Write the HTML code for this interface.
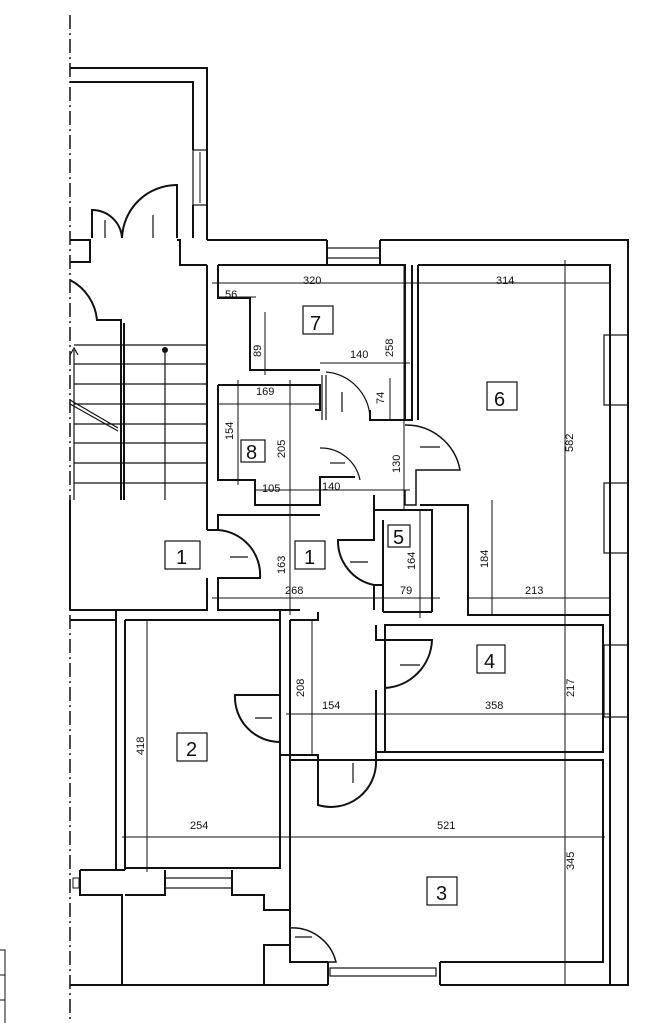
<!DOCTYPE html>
<html><head><style>
html,body{margin:0;padding:0;background:#fff;}
svg{display:block;}
text{font-family:"Liberation Sans",sans-serif;font-size:11px;fill:#111;}
.n{font-size:20px;}
</style></head><body>
<svg width="651" height="1023" viewBox="0 0 651 1023" xmlns="http://www.w3.org/2000/svg">
<g fill="none" stroke="#111" stroke-width="2">
<line x1="70" y1="15" x2="70" y2="1023" stroke-width="1.5" stroke-dasharray="14,4,2,4"/>
<path d="M70 68 H207 V240"/>
<path d="M70 82 H193 V150 M193 205 V238"/>
<rect x="193" y="150" width="14" height="55" stroke-width="1.2"/>
<line x1="200" y1="152" x2="200" y2="203" stroke-width="1"/>
<path d="M70 240 H90 V262 H70"/>
<path d="M92 238 V210 A30 30 0 0 1 122 238 M122 238 A55 55 0 0 1 177 185 V238 M177 240 H180 V265 H207"/>
<line x1="105" y1="220" x2="105" y2="238" stroke-width="1.2"/>
<line x1="153" y1="215" x2="153" y2="238" stroke-width="1.2"/>
<path d="M70 280 A50 50 0 0 1 97 320 H121 V500"/>
<path d="M124 323 V500"/>
<g stroke-width="1.2">
<line x1="74" y1="345" x2="207" y2="345"/>
<line x1="74" y1="364" x2="207" y2="364"/>
<line x1="74" y1="384" x2="207" y2="384"/>
<line x1="74" y1="404" x2="207" y2="404"/>
<line x1="74" y1="424" x2="207" y2="424"/>
<line x1="74" y1="443" x2="207" y2="443"/>
<line x1="74" y1="463" x2="207" y2="463"/>
<line x1="74" y1="483" x2="207" y2="483"/>
<line x1="165" y1="350" x2="165" y2="500"/>
<line x1="74" y1="350" x2="74" y2="500"/>
<path d="M70 400 L118 428 M70 404 L118 431"/>
<path d="M70 355 L74 348 L78 355"/>
</g>
<circle cx="165" cy="350" r="2" fill="#111"/>
<line x1="70" y1="500" x2="70" y2="610"/>
<path d="M207 240 H327 M380 240 H628 V985 H440 M328 985 H264 V945 H290 V945"/>
<rect x="327" y="248" width="53" height="10" stroke-width="1.2"/>
<path d="M327 240 V265 M380 240 V265"/>
<path d="M207 265 V530 M218 265 H405 V420 H370 V410 M218 265 V298 H250 V370 H320"/>
<path d="M412 265 V420 H405"/>
<path d="M218 385 H320 V410 H315 M218 385 V480 H255 V505 H320 V477 H355"/>
<path d="M326 375 V420 M322 375 V420" stroke-width="1.2"/>
<path d="M326 372 A48 48 0 0 1 370 418" stroke-width="1.2"/>
<line x1="342" y1="392" x2="342" y2="412" stroke-width="1.2"/>
<path d="M320 448 A40 40 0 0 1 360 480" stroke-width="1.2"/>
<line x1="330" y1="463" x2="345" y2="463" stroke-width="1.2"/>
<path d="M405 425 A55 55 0 0 1 460 470 H416 V505 H405 V490" stroke-width="1.5"/>
<line x1="420" y1="447" x2="440" y2="447" stroke-width="1.2"/>
<path d="M418 265 H610 V985 M418 265 V420 M420 505 H468 V615 H610"/>
<rect x="604" y="335" width="24" height="70" stroke-width="1.2"/>
<rect x="604" y="483" width="24" height="70" stroke-width="1.2"/>
<rect x="604" y="645" width="24" height="72" stroke-width="1.2"/>
<path d="M207 530 H218 V515 H320 M218 515 V530"/>
<path d="M218 530 A45 45 0 0 1 260 578 H218 V610 H300 M207 578 V610 H70"/>
<line x1="230" y1="557" x2="248" y2="557" stroke-width="1.2"/>
<path d="M374 495 V510 M383 510 H432 V612 M374 510 V540 H338 A45 45 0 0 0 374 585 V610 M383 520 V585 M374 510 H383"/>
<path d="M374 585 H383 V612 M432 612 H383"/>
<line x1="350" y1="562" x2="368" y2="562" stroke-width="1.2"/>
<path d="M70 620 H116 V610 M125 620 H280 V868 H125 V620 M116 620 V868"/>
<path d="M290 620 H318 V612 M280 610 V620"/>
<path d="M280 695 H235 A45 45 0 0 0 280 742 V755 H290 V620 M290 755 V962"/>
<line x1="255" y1="718" x2="272" y2="718" stroke-width="1.2"/>
<path d="M290 755 H318 V805 A45 45 0 0 0 376 760 V752 H385 V625 H603 V752 H385 M376 625 V640 H432 A50 50 0 0 1 385 688 M376 690 V752"/>
<line x1="400" y1="665" x2="420" y2="665" stroke-width="1.2"/>
<line x1="353" y1="763" x2="353" y2="783" stroke-width="1.2"/>
<path d="M290 760 H603 V962 H440 M328 962 H290 V950"/>
<path d="M290 928 A45 45 0 0 1 336 962 H292" stroke-width="1.5"/>
<line x1="295" y1="937" x2="312" y2="937" stroke-width="1.2"/>
<rect x="330" y="968" width="106" height="8" stroke-width="1.2"/>
<path d="M328 962 V985 M440 962 V985"/>
<path d="M80 870 H125 M80 870 V895 H122 V985 M125 895 H165 V870 M232 870 V895 H264 V910 H290"/>
<rect x="165" y="878" width="67" height="10" stroke-width="1.2"/>
<path d="M70 985 H264 M116 868 V870 M125 868 V870"/>
<rect x="73" y="878" width="6" height="10" stroke-width="1"/>
<path d="M0 950 H5 V1023 M0 975 H5 M0 1000 H5" stroke-width="1"/>
</g>
<g stroke="#111" stroke-width="1" fill="none">
<line x1="212" y1="283" x2="420" y2="283"/>
<line x1="412" y1="283" x2="610" y2="283"/>
<line x1="218" y1="297" x2="256" y2="297"/>
<line x1="265" y1="312" x2="265" y2="375"/>
<line x1="320" y1="363" x2="410" y2="363"/>
<line x1="390" y1="378" x2="390" y2="420"/>
<line x1="404" y1="265" x2="404" y2="510"/>
<line x1="218" y1="404" x2="320" y2="404"/>
<line x1="238" y1="380" x2="238" y2="485"/>
<line x1="290" y1="380" x2="290" y2="615"/>
<line x1="255" y1="490" x2="410" y2="490"/>
<line x1="212" y1="598" x2="440" y2="598"/>
<line x1="420" y1="510" x2="420" y2="618"/>
<line x1="565" y1="260" x2="565" y2="985"/>
<line x1="492" y1="500" x2="492" y2="615"/>
<line x1="468" y1="598" x2="610" y2="598"/>
<line x1="147" y1="620" x2="147" y2="872"/>
<line x1="122" y1="837" x2="605" y2="837"/>
<line x1="312" y1="620" x2="312" y2="755"/>
<line x1="286" y1="714" x2="610" y2="714"/>
</g>
<text x="303" y="284">320</text>
<text x="496" y="284">314</text>
<text x="225" y="298" font-size="10">56</text>
<text x="350" y="358">140</text>
<text x="256" y="395">169</text>
<text x="262" y="492">105</text>
<text x="322" y="490">140</text>
<text x="285" y="594">268</text>
<text x="400" y="594">79</text>
<text x="525" y="594">213</text>
<text x="190" y="829">254</text>
<text x="437" y="829">521</text>
<text x="322" y="709">154</text>
<text x="485" y="709">358</text>
<g font-size="11">
<text transform="translate(261,357) rotate(-90)">89</text>
<text transform="translate(393,357) rotate(-90)">258</text>
<text transform="translate(384,404) rotate(-90)">74</text>
<text transform="translate(233,440) rotate(-90)">154</text>
<text transform="translate(285,458) rotate(-90)">205</text>
<text transform="translate(400,473) rotate(-90)">130</text>
<text transform="translate(573,452) rotate(-90)">582</text>
<text transform="translate(285,574) rotate(-90)">163</text>
<text transform="translate(415,570) rotate(-90)">164</text>
<text transform="translate(488,568) rotate(-90)">184</text>
<text transform="translate(574,697) rotate(-90)">217</text>
<text transform="translate(304,697) rotate(-90)">208</text>
<text transform="translate(144,755) rotate(-90)">418</text>
<text transform="translate(574,870) rotate(-90)">345</text>
</g>
<g stroke="#111" stroke-width="1.2" fill="none">
<rect x="303" y="306" width="30" height="28"/>
<rect x="487" y="382" width="30" height="28"/>
<rect x="241" y="440" width="24" height="22"/>
<rect x="165" y="541" width="35" height="28"/>
<rect x="295" y="541" width="30" height="28"/>
<rect x="388" y="525" width="22" height="22"/>
<rect x="477" y="645" width="28" height="28"/>
<rect x="177" y="733" width="30" height="28"/>
<rect x="427" y="877" width="30" height="28"/>
</g>
<g>
<text x="310" y="330" class="n">7</text>
<text x="494" y="406" class="n">6</text>
<text x="246" y="459" class="n">8</text>
<text x="176" y="564" class="n">1</text>
<text x="304" y="564" class="n">1</text>
<text x="393" y="544" class="n">5</text>
<text x="484" y="668" class="n">4</text>
<text x="186" y="756" class="n">2</text>
<text x="436" y="900" class="n">3</text>
</g>
</svg>
</body></html>
